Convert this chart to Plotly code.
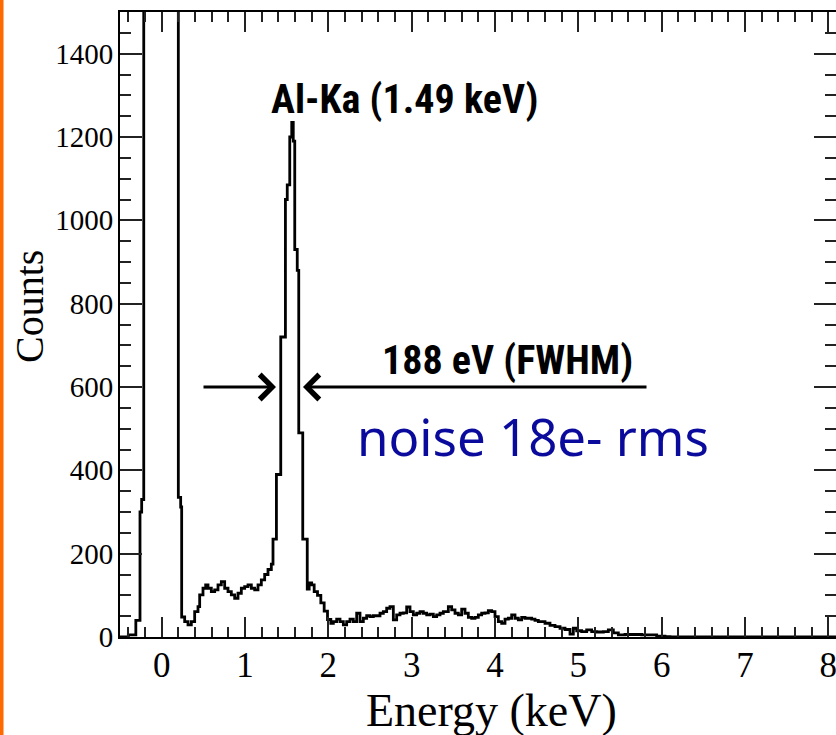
import plotly.graph_objects as go

# Spectrum: left bin edges (keV) and counts (step histogram)
energy = [-0.50, -0.40, -0.31, -0.26, -0.24, -0.215, 0.200, 0.228, 0.240, 0.276,
          0.316, 0.356, 0.396, 0.436, 0.456, 0.496, 0.528, 0.556, 0.596, 0.636,
          0.676, 0.716, 0.756, 0.796, 0.836, 0.876, 0.916, 0.956, 0.996, 1.036,
          1.076, 1.116, 1.156, 1.196, 1.236, 1.276, 1.316, 1.336, 1.377, 1.429,
          1.485, 1.507, 1.537, 1.561, 1.579, 1.597, 1.627, 1.645, 1.693, 1.747,
          1.77, 1.80, 1.83, 1.87, 1.91, 1.95, 1.99, 2.03, 2.06, 2.10,
          2.14, 2.18, 2.22, 2.26, 2.30, 2.34, 2.38, 2.42, 2.46, 2.50,
          2.54, 2.58, 2.62, 2.66, 2.70, 2.74, 2.78, 2.82, 2.86, 2.90,
          2.94, 2.98, 3.02, 3.06, 3.10, 3.14, 3.18, 3.22, 3.26, 3.30,
          3.34, 3.38, 3.44, 3.48, 3.52, 3.56, 3.60, 3.64, 3.68, 3.72,
          3.76, 3.80, 3.84, 3.88, 3.92, 3.96, 4.00, 4.04, 4.08, 4.12,
          4.16, 4.20, 4.24, 4.28, 4.32, 4.36, 4.40, 4.44, 4.48, 4.52,
          4.56, 4.60, 4.66, 4.72, 4.78, 4.84, 4.90, 4.94, 4.98, 5.04,
          5.10, 5.16, 5.22, 5.30, 5.36, 5.42, 5.48, 5.56, 5.66, 5.76,
          5.86, 5.94, 6.04, 6.10, 6.16, 8.10]
counts = [0, 5, 40, 300, 330, 9000, 335, 312, 48, 37,
          29, 37, 61, 73, 101, 117, 125, 117, 109, 113,
          125, 133, 117, 109, 101, 93, 105, 117, 121, 125,
          117, 113, 125, 137, 150, 162, 175, 235, 390, 720,
          1050, 1085, 1200, 1235, 1190, 930, 880, 490, 235, 115,
          130, 125, 109, 100, 82, 62, 42, 33, 37, 43,
          37, 29, 37, 43, 37, 57, 37, 45, 51, 49,
          51, 51, 57, 61, 69, 73, 41, 53, 57, 58,
          72, 61, 53, 57, 61, 57, 53, 55, 49, 53,
          57, 61, 73, 65, 57, 53, 67, 57, 47, 45,
          47, 53, 57, 58, 63, 61, 49, 37, 33, 43,
          45, 53, 45, 41, 47, 45, 45, 43, 40, 37,
          37, 33, 28, 25, 21, 18, 7, 21, 15, 13,
          17, 13, 12, 13, 17, 10, 5, 6, 6, 5,
          5, 2, 1, 0, 0, 0]

x_title = "Energy (keV)"
y_title = "Counts"
peak_label = "Al-Ka (1.49 keV)"
fwhm_label = "188 eV (FWHM)"
noise_label = "noise 18e- rms"

fig = go.Figure()
fig.add_trace(go.Scatter(x=energy, y=counts, mode="lines", line_shape="hv",
                         line=dict(color="black", width=2.8), showlegend=False,
                         hoverinfo="skip"))

serif = "Liberation Serif, Times New Roman, serif"
cond = "Roboto Condensed, Liberation Sans Narrow, Liberation Sans, sans-serif"

L, T, W, H = 120, 12, 716, 625  # plot area in page pixels


def px(x):
    return (x - L) / W


def py(y):
    return (T + H - y) / H


fig.update_layout(
    width=836, height=735,
    margin=dict(l=L, r=836 - L - W, t=T, b=735 - T - H, pad=0),
    paper_bgcolor="white", plot_bgcolor="white",
    xaxis=dict(range=[-0.5, 8.092], showgrid=False, zeroline=False, automargin=False,
               showline=True, linecolor="black", linewidth=2, mirror="ticks",
               ticks="inside", ticklen=20, tickwidth=1.5, tickcolor="#222",
               tick0=0, dtick=1, tickfont=dict(family=serif, size=35, color="black"),
               ticklabelstandoff=-4, ticklabeloverflow="allow",
               minor=dict(ticks="inside", ticklen=10, tickwidth=1.5, tickcolor="#222",
                          dtick=0.2, tick0=0, showgrid=False)),
    yaxis=dict(range=[0, 1500], showgrid=False, zeroline=False, automargin=False,
               showline=True, linecolor="black", linewidth=2, mirror="ticks",
               ticks="inside", ticklen=22, tickwidth=1.5, tickcolor="#222",
               tick0=0, dtick=200, tickfont=dict(family=serif, size=29, color="black"),
               ticklabelstandoff=-1,
               minor=dict(ticks="inside", ticklen=11, tickwidth=1.5, tickcolor="#222",
                          dtick=50, tick0=0, showgrid=False)),
)

ann = []
ann.append(dict(text=x_title, xref="paper", yref="paper", x=px(492), y=py(710),
                showarrow=False, font=dict(family=serif, size=46, color="black"),
                xanchor="center", yanchor="middle"))
ann.append(dict(text=y_title, xref="paper", yref="paper", x=px(29), y=py(307),
                showarrow=False, textangle=-90, font=dict(family=serif, size=40, color="black"),
                xanchor="center", yanchor="middle"))
ann.append(dict(text=peak_label, xref="paper", yref="paper", x=px(404), y=py(99),
                showarrow=False, font=dict(family=cond, size=40, color="black", weight="bold"),
                xanchor="center", yanchor="middle"))
ann.append(dict(text=fwhm_label, xref="paper", yref="paper", x=px(507), y=py(360),
                showarrow=False, font=dict(family=cond, size=40, color="black", weight="bold"),
                xanchor="center", yanchor="middle"))
ann.append(dict(text=noise_label, xref="paper", yref="paper", x=px(533), y=py(436),
                showarrow=False, font=dict(family="Noto Sans, sans-serif", size=51, color="#0a0a9c"),
                xanchor="center", yanchor="middle"))
# FWHM arrows
ann.append(dict(text="", x=1.372, y=600, xref="x", yref="y", ax=0.484, ay=600, axref="x", ayref="y",
                showarrow=True, arrowhead=4, arrowsize=1.6, arrowwidth=3, arrowcolor="black"))
ann.append(dict(text="", x=1.696, y=600, xref="x", yref="y", ax=5.836, ay=600, axref="x", ayref="y",
                showarrow=True, arrowhead=4, arrowsize=1.6, arrowwidth=3, arrowcolor="black"))
fig.update_layout(annotations=ann)

# orange slide border at far left
fig.add_shape(type="rect", xref="paper", yref="paper",
              x0=px(0), x1=px(3.5), y0=py(735), y1=py(0),
              fillcolor="#ff6a00", line=dict(width=0), layer="above")

fig.write_html("out.html", config={"displayModeBar": False},
               post_script="document.body.style.margin='0';document.body.style.overflow='hidden';")
